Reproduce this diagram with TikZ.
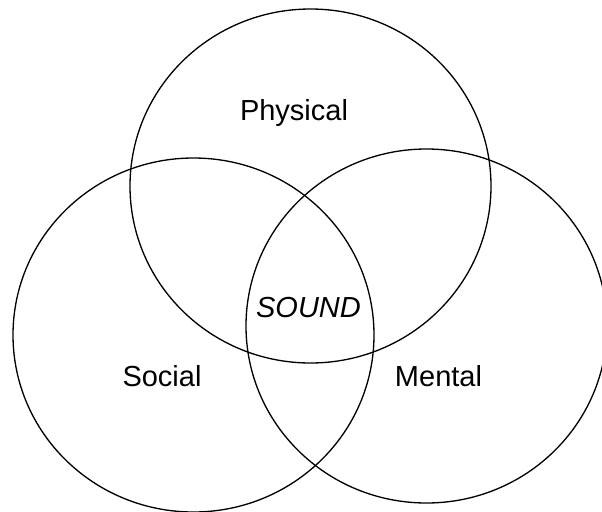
\documentclass[tikz,border=0pt]{standalone}
\usepackage{fontspec}
\setmainfont{Liberation Sans}
\usepackage{tikz}
\usetikzlibrary{positioning}

\begin{document}
\begin{tikzpicture}[
    x=0.02cm, y=-0.02cm,
    every node/.style={font=\fontsize{16.5}{20}\selectfont, inner sep=0pt, anchor=base},
    ring/.style={draw, line width=0.75pt},
    core/.style={font=\fontsize{16.5}{20}\selectfont\itshape}
  ]
    % Frame
    \useasboundingbox (0,0) rectangle (602,511);
    \clip (0,0) rectangle (602,511);

    %------------------ Circles ------------------%
    \draw[ring] (310.5,186) ellipse [x radius=180.5, y radius=177];
    \draw[ring] (193.5,335) ellipse [x radius=180.5, y radius=177];
    \draw[ring] (426.5,326) ellipse [x radius=180.5, y radius=177];

    %------------------ Labels -------------------%
    \node (physical) at (294,120) {Physical};
    \node (social) at (162,386.7) {Social};
    \node (mental) at (438.5,386.7) {Mental};
    \node[core] (sound) at (308.5,317.6) {SOUND};
\end{tikzpicture}
\end{document}
